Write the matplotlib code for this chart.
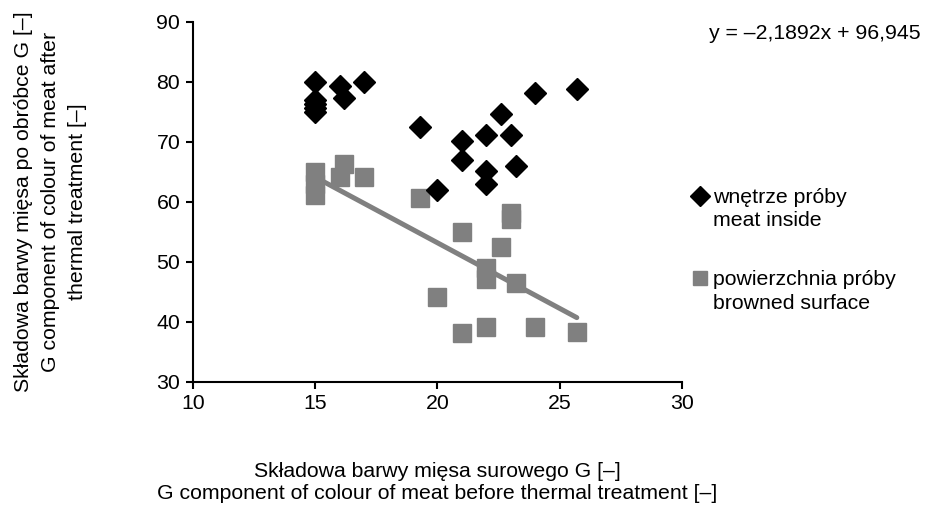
import matplotlib
matplotlib.use('Agg')
import matplotlib.pyplot as plt
from matplotlib.lines import Line2D
import numpy as np

plt.rcParams['font.family'] = ['Liberation Sans', 'DejaVu Sans']

# meat inside (black diamonds)
inside_x = [15, 15, 15, 15, 15, 16.0, 16.2, 17.0, 19.3, 20.0, 21.0, 21.0,
            22.0, 22.0, 22.0, 22.6, 23.0, 23.2, 24.0, 25.7]
inside_y = [80, 77.0, 76.3, 75.6, 75.0, 79.2, 77.2, 80.0, 72.5, 62.0, 70.1, 67.0,
            71.1, 65.1, 63.0, 74.6, 71.1, 66.0, 78.1, 78.8]

# browned surface (grey squares)
surf_x = [15, 15, 15, 16.0, 16.2, 17.0, 19.3, 20.0, 21.0, 21.0, 22.0, 22.0,
          22.0, 22.6, 23.0, 23.0, 23.2, 24.0, 25.7]
surf_y = [65.0, 63.0, 61.1, 64.1, 66.3, 64.1, 60.6, 44.2, 55.0, 38.2, 48.9, 47.2,
          39.2, 52.5, 58.1, 57.1, 46.5, 39.2, 38.3]

slope, intercept = -2.1892, 96.945

fs = 15.3
grey = '#808080'

fig = plt.figure(figsize=(9.27, 5.08), dpi=100)
ax = fig.add_axes([0.2079, 0.2486, 0.5278, 0.7087])

ax.plot(inside_x, inside_y, linestyle='none', marker='D', ms=11.6,
        color='black', zorder=3)
ax.plot(surf_x, surf_y, linestyle='none', marker='s', ms=12.5,
        color=grey, zorder=2)
xl = np.array([min(surf_x), max(surf_x)])
ax.plot(xl, slope * xl + intercept, color=grey, lw=3.6, solid_capstyle='round',
        zorder=2)

ax.set_xlim(10, 30)
ax.set_ylim(30, 90)
ax.set_xticks([10, 15, 20, 25, 30])
ax.set_yticks([30, 40, 50, 60, 70, 80, 90])
for s in ['top', 'right']:
    ax.spines[s].set_visible(False)
for s in ['left', 'bottom']:
    ax.spines[s].set_linewidth(1.5)
ax.tick_params(labelsize=fs, width=1.5, length=5, pad=4)

ax.set_xlabel('Składowa barwy mięsa surowego G [–]\n'
              'G component of colour of meat before thermal treatment [–]',
              fontsize=fs, labelpad=35, linespacing=1.22)
ax.set_ylabel('Składowa barwy mięsa po obróbce G [–]\n'
              'G component of colour of meat after\nthermal treatment [–]',
              fontsize=fs, labelpad=50, linespacing=1.52)

fig.text(0.765, 0.935, 'y = –2,1892x + 96,945', fontsize=fs, va='center')

blank = Line2D([], [], linestyle='none')
diamond = Line2D([], [], linestyle='none', marker='D', ms=11.6, color='black')
square = Line2D([], [], linestyle='none', marker='s', ms=12.5, color=grey)

leg_kw = dict(loc='upper left', bbox_transform=fig.transFigure, frameon=False,
              fontsize=fs, handlelength=0.7, handletextpad=0.25,
              labelspacing=0.2, borderpad=0, borderaxespad=0)
leg1 = ax.legend([diamond, blank], ['wnętrze próby', 'meat inside'],
                 bbox_to_anchor=(0.7476, 0.63), markerscale=0.85, **leg_kw)
ax.add_artist(leg1)
ax.legend([square, blank], ['powierzchnia próby', 'browned surface'],
          bbox_to_anchor=(0.7476, 0.468), markerscale=0.78, **leg_kw)

fig.savefig('out.png', dpi=100)
